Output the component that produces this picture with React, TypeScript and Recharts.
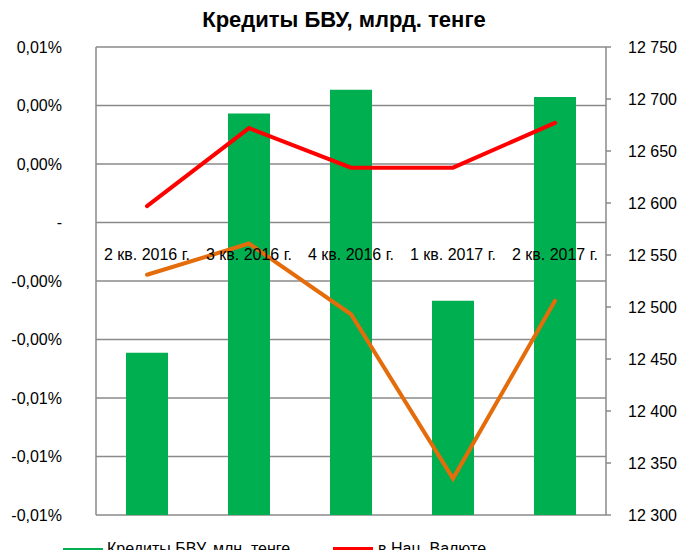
import { Bar, CartesianGrid, ComposedChart, LabelList, Line, XAxis, YAxis } from 'recharts'

const quarters = ['2 кв. 2016 г.', '3 кв. 2016 г.', '4 кв. 2016 г.', '1 кв. 2017 г.', '2 кв. 2017 г.']
const credits = [12456, 12686, 12709, 12506, 12702]
const natCurrency = [12597, 12672, 12634, 12634, 12677]
const forCurrency = [12531, 12561, 12493, 12335, 12506]
const zeroLine = [0, 0, 0, 0, 0]

const leftTicks = [-0.0001, -0.00008, -0.00006, -0.00004, -0.00002, 0, 0.00002, 0.00004, 0.00006]
const rightTicks = [12300, 12350, 12400, 12450, 12500, 12550, 12600, 12650, 12700, 12750]

const data = quarters.map((q, i) => ({
  quarter: q,
  credits: credits[i],
  nat: natCurrency[i],
  foreign: forCurrency[i],
  zero: zeroLine[i],
}))

const font = '"Liberation Sans", Arial, sans-serif'
const gridColor = '#8a8a8a'

function fmtPct(v: number) {
  if (v === 0) return '-'
  return (v * 100).toFixed(2).replace('.', ',') + '%'
}

function fmtNum(v: number) {
  return String(v).replace(/\B(?=(\d{3})+(?!\d))/g, ' ')
}

const legendText = { position: 'absolute' as const, top: 540, fontSize: 16, lineHeight: '18px', color: '#000', whiteSpace: 'nowrap' as const }

export default function App() {
  return (
    <div style={{ position: 'relative', width: 688, height: 558, overflow: 'hidden', margin: -8, fontFamily: font, background: '#fff' }}>
      <div style={{ position: 'absolute', top: 7, left: 0, width: 688, textAlign: 'center', fontWeight: 'bold', fontSize: 22, color: '#000' }}>
        Кредиты БВУ, млрд. тенге
      </div>
      <ComposedChart width={688} height={558} data={data} margin={{ top: 47, right: 0, left: 0, bottom: 43 }}>
        <CartesianGrid yAxisId='left' vertical={false} stroke={gridColor} strokeWidth={1.5} />
        <XAxis dataKey='quarter' hide />
        <YAxis
          yAxisId='left'
          width={96}
          domain={[-0.0001, 0.00006]}
          ticks={leftTicks}
          tickFormatter={fmtPct}
          tickLine={false}
          tickSize={0}
          tickMargin={34}
          axisLine={{ stroke: gridColor, strokeWidth: 1.5 }}
          tick={{ fill: '#000', fontSize: 16, fontFamily: font }}
          interval={0}
        />
        <YAxis
          yAxisId='right'
          orientation='right'
          width={82}
          domain={[12300, 12750]}
          ticks={rightTicks}
          allowDataOverflow
          tickFormatter={fmtNum}
          tickLine={{ stroke: gridColor, strokeWidth: 1.5 }}
          tickSize={5}
          tickMargin={17}
          axisLine={{ stroke: gridColor, strokeWidth: 1.5 }}
          tick={{ fill: '#000', fontSize: 16, fontFamily: font }}
          interval={0}
        />
        <Bar yAxisId='right' dataKey='credits' name='Кредиты БВУ, млн. тенге' fill='#00B050' barSize={42} isAnimationActive={false} />
        <Line yAxisId='right' dataKey='nat' name='в Нац. Валюте' stroke='#FF0000' strokeWidth={4} strokeLinecap='round' dot={false} activeDot={false} type='linear' isAnimationActive={false} />
        <Line yAxisId='right' dataKey='foreign' name='в Ин. Валюте' stroke='#E46C0A' strokeWidth={4} strokeLinecap='round' dot={false} activeDot={false} type='linear' isAnimationActive={false} />
        <Line yAxisId='left' dataKey='zero' stroke='none' dot={false} activeDot={false} legendType='none' isAnimationActive={false}>
          <LabelList dataKey='quarter' position='bottom' offset={26} fill='#000' fontSize={16} fontFamily={font} />
        </Line>
      </ComposedChart>
      <span style={{ position: 'absolute', left: 63, top: 548, width: 40, height: 10, background: '#00B050' }} />
      <span style={{ ...legendText, left: 107 }}>Кредиты БВУ, млн. тенге</span>
      <span style={{ position: 'absolute', left: 333, top: 547, width: 40, height: 4, background: '#FF0000' }} />
      <span style={{ ...legendText, left: 378 }}>в Нац. Валюте</span>
    </div>
  )
}
